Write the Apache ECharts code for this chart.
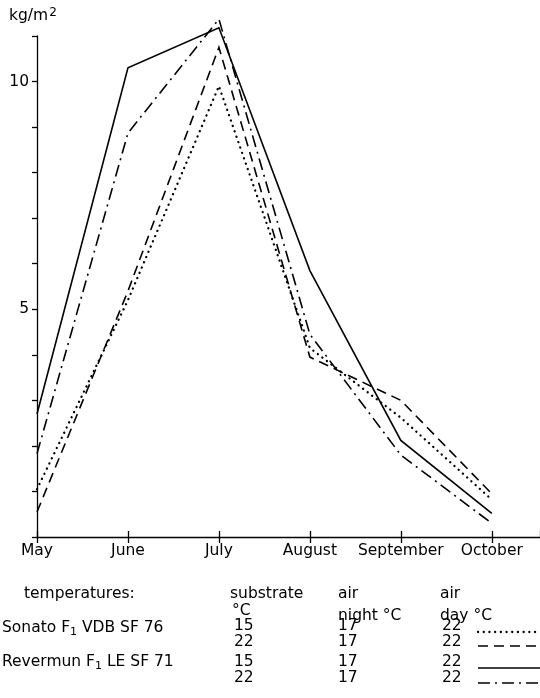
<!DOCTYPE html>
<html><head><meta charset="utf-8">
<script src="https://cdn.jsdelivr.net/npm/echarts@6/dist/echarts.min.js"></script>
<style>html,body{margin:0;padding:0;background:#fff}#c{width:540px;height:698px}</style>
</head><body><div id="c"></div>
<script>
// ---- data ----
const months = ['May','June','July','August','September','October'];
const sonato15 = [1.05, 5.2, 9.9, 4.15, 2.62, 0.82];   // dotted
const sonato22 = [0.55, 5.4, 10.75, 3.95, 3.0, 0.95];  // dashed
const revermun15 = [2.7, 10.3, 11.18, 5.85, 2.12, 0.52]; // solid
const revermun22 = [1.83, 8.87, 11.37, 4.45, 1.8, 0.3];  // dash-dot
const yLabels = [5, 10];
const varieties = ['Sonato F1 VDB SF 76', 'Revermun F1 LE SF 71'];
const substrateT = ['15','22','15','22'];
const nightT = ['17','17','17','17'];
const dayT = ['22','22','22','22'];

const FONT = 'DejaVu Sans';
const FS = 15.5;
const pts = arr => arr.map((v,i)=>[i,v]);
const styles = [
  {type:[0.1,5.6], width:2.3, cap:'round'},
  {type:[10,6], width:1.6, cap:'butt'},
  {type:'solid', width:1.6, cap:'butt'},
  {type:[12,5,2,5], width:1.6, cap:'butt'}
];
const seriesData = [sonato15, sonato22, revermun15, revermun22];

const chart = echarts.init(document.getElementById('c'), null, {renderer:'canvas'});
const series = seriesData.map((d,k)=>({
  type:'line', data:pts(d), symbol:'none', clip:false, silent:true,
  lineStyle:{color:'#000', width:styles[k].width, type:styles[k].type, cap:styles[k].cap, join:'miter'}
}));

const graphic = [];
function txt(x,y,text){
  graphic.push({type:'text', left:x, top:y, style:{text:text, font:FS+'px "'+FONT+'"', fill:'#000'}});
}
function rich(x,y,parts){
  graphic.push({type:'text', left:x, top:y, style:{
    text: parts, font:FS+'px "'+FONT+'"', fill:'#000',
    rich:{ sub:{fontSize:11, fontFamily:FONT, padding:[9,0,0,0]}, sup:{fontSize:12, fontFamily:FONT, padding:[0,0,6,1]}, n:{fontSize:FS,fontFamily:FONT} }
  }});
}
rich(9,7,'{n|kg/m}{sup|2}');
txt(24,586,'temperatures:');
txt(230,586,'substrate');
txt(338,586,'air');
txt(440,586,'air');
txt(232,603,'°C');
txt(338,608,'night °C');
txt(440,608,'day °C');
const nameParts = v => { const m = v.split('F1'); return '{n|'+m[0]+'F}{sub|1}{n|'+m[1]+'}'; };
rich(2,620,nameParts(varieties[0]));
rich(2,654,nameParts(varieties[1]));
const rowY = [618,634,654,670];
for(let r=0;r<4;r++){
  txt(234,rowY[r],substrateT[r]);
  txt(338,rowY[r],nightT[r]);
  txt(442,rowY[r],dayT[r]);
}
const sampleY = [632,646,668,683];
for(let r=0;r<4;r++){
  graphic.push({type:'line', shape:{x1:478,y1:sampleY[r],x2:540,y2:sampleY[r]},
    style:{stroke:'#000', lineWidth:styles[r].width, lineDash:styles[r].type==='solid'?null:styles[r].type, lineCap:styles[r].cap}});
}

chart.setOption({
  animation:false,
  backgroundColor:'#fff',
  grid:{left:37, right:0, top:36, bottom:161, containLabel:false},
  xAxis:[{
    type:'value', min:0, max:5.53, interval:1,
    axisLine:{lineStyle:{color:'#000', width:1.3}},
    axisTick:{show:true, length:6, lineStyle:{color:'#000', width:1.3}},
    splitLine:{show:false},
    axisLabel:{color:'#000', fontFamily:FONT, fontSize:FS, margin:6, formatter:v=>months[Math.round(v)]||'', showMaxLabel:false}
  },{
    type:'value', min:0, max:5.53, interval:1, position:'bottom',
    axisLine:{show:false}, axisLabel:{show:false}, splitLine:{show:false},
    axisTick:{show:true, inside:true, length:6, lineStyle:{color:'#000', width:1.3}}
  }],
  yAxis:{
    type:'value', min:0, max:11, interval:1,
    axisLine:{show:true, lineStyle:{color:'#000', width:1.3}},
    axisTick:{show:true, length:5, lineStyle:{color:'#000', width:1.3}},
    splitLine:{show:false},
    axisLabel:{color:'#000', fontFamily:FONT, fontSize:FS, margin:8, formatter:v=>yLabels.includes(v)?String(v):''}
  },
  series: series,
  graphic: graphic
});
</script></body></html>
